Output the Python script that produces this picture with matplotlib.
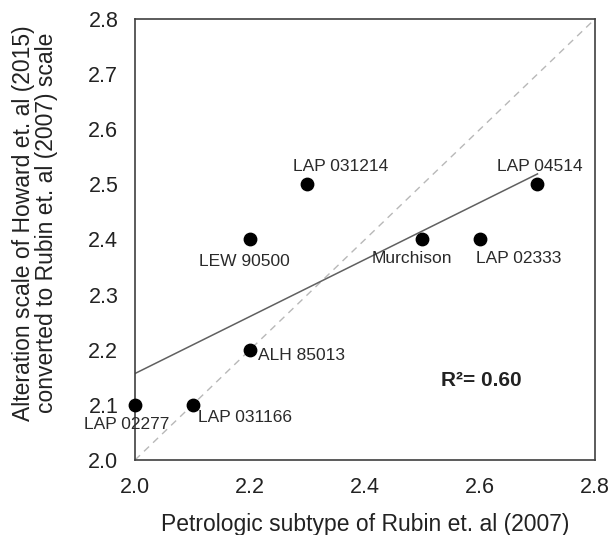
import matplotlib
matplotlib.use("Agg")
import matplotlib.pyplot as plt
import numpy as np

plt.rcParams['font.family'] = ['Liberation Sans', 'DejaVu Sans']

names = ["LAP 02277", "LAP 031166", "ALH 85013", "LEW 90500",
         "LAP 031214", "Murchison", "LAP 02333", "LAP 04514"]
petrologic = [2.0, 2.1, 2.2, 2.2, 2.3, 2.5, 2.6, 2.7]
alteration = [2.1, 2.1, 2.2, 2.4, 2.5, 2.4, 2.4, 2.5]
ticks = [2.0, 2.2, 2.4, 2.6, 2.8]
yticks = [2.0, 2.1, 2.2, 2.3, 2.4, 2.5, 2.6, 2.7, 2.8]

# label offsets (points) and alignment
offsets = {
    "LAP 02277": ((-6, -14), "center", "center"),
    "LAP 031166": ((4, -9), "left", "center"),
    "ALH 85013": ((6, -4), "left", "center"),
    "LEW 90500": ((-4, -16), "center", "center"),
    "LAP 031214": ((24, 13), "center", "center"),
    "Murchison": ((-8, -14), "center", "center"),
    "LAP 02333": ((28, -14), "center", "center"),
    "LAP 04514": ((2, 13), "center", "center"),
}

fig = plt.figure(figsize=(6.12, 5.35), dpi=100)
ax = fig.add_axes([0.2206, 0.1402, 0.7516, 0.8243])

x = np.array(petrologic)
y = np.array(alteration)
slope, intercept = np.polyfit(x, y, 1)
r2 = np.corrcoef(x, y)[0, 1] ** 2

ax.plot([2.0, 2.8], [2.0, 2.8], ls=(0, (5, 4)), color='#b8b8b8', lw=1.0, zorder=1)
xf = np.array([x.min(), x.max()])
ax.plot(xf, slope * xf + intercept, color='#606060', lw=1.1, zorder=2)
ax.scatter(x, y, s=80, color='black', zorder=3, clip_on=False)

for n, xi, yi in zip(names, petrologic, alteration):
    off, ha, va = offsets[n]
    ax.annotate(n, (xi, yi), xytext=off, textcoords='offset points',
                ha=ha, va=va, fontsize=12.5, color='#2a2a2a')

ax.text(2.603, 2.145, "R\u00b2= %.2f" % r2, fontsize=15, fontweight='bold',
        ha='center', va='center', color='#222222')

ax.set_xlim(2.0, 2.8)
ax.set_ylim(2.0, 2.8)
ax.set_xticks(ticks)
ax.set_yticks(yticks)
ax.set_xticklabels(["%.1f" % t for t in ticks])
ax.set_yticklabels(["%.1f" % t for t in yticks])
ax.tick_params(length=0, labelsize=15.5, colors='#222222')
ax.tick_params(axis='x', pad=12)
ax.tick_params(axis='y', pad=12)
for s in ax.spines.values():
    s.set_color('#404040')
    s.set_linewidth(1.2)

ax.set_xlabel("Petrologic subtype of Rubin et. al (2007)", fontsize=16.5, color='#222222', labelpad=11)
ax.set_ylabel("Alteration scale of Howard et. al (2015)\nconverted to Rubin et. al (2007) scale",
              fontsize=16.5, color='#222222', linespacing=1.0)
ax.yaxis.set_label_coords(-0.167, 0.538)

fig.savefig("out.png", dpi=100)
